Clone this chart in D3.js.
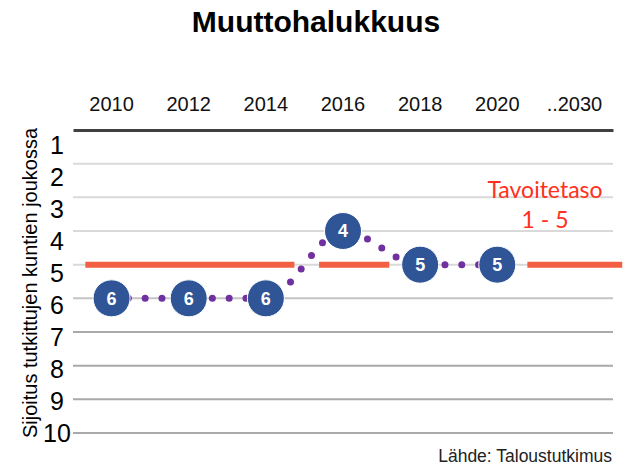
<!DOCTYPE html>
<html>
<head>
<meta charset="utf-8">
<script src="https://cdn.jsdelivr.net/npm/d3@7"></script>
<style>
  body { margin: 0; background: #fff; }
  text { font-family: "Liberation Sans", Arial, sans-serif; }
</style>
</head>
<body>
<svg id="chart" width="638" height="468"></svg>
<script>
// data
var years = ['2010', '2012', '2014', '2016', '2018', '2020', '..2030'];
var rankYears = ['2010', '2012', '2014', '2016', '2018', '2020'];
var ranks = [6, 6, 6, 4, 5, 5];
var rankTicks = [1, 2, 3, 4, 5, 6, 7, 8, 9, 10];
var targetRank = 5;
// target line pieces, in category index units (2010 = 0)
var targetSegments = [[-0.34, 2.37], [2.69, 3.6], [5.39, 6.62]];
var targetLabel = ['Tavoitetaso', '1 - 5'];

var svg = d3.select('#chart');

var x = d3.scaleBand().domain(years).range([73, 613]);
var xi = d3.scaleLinear().domain([-0.5, years.length - 0.5]).range([73, 613]);
var y = d3.scaleLinear().domain([1, 10]).range([130, 433]);
var yLab = d3.scaleLinear().domain([1, 10]).range([145, 433]);

function cx(d) { return x(d) + x.bandwidth() / 2; }

// title
svg.append('text')
    .attr('x', 316)
    .attr('y', 32)
    .attr('text-anchor', 'middle')
    .style('font-size', '30px')
    .style('font-weight', 'bold')
    .text('Muuttohalukkuus');

// grid lines
svg.append('g')
    .selectAll('line')
    .data(rankTicks.slice(1))
    .join('line')
    .attr('x1', 73)
    .attr('x2', 613)
    .attr('y1', d => y(d))
    .attr('y2', d => y(d))
    .style('stroke', d => d <= 5 ? '#d9d9d9' : (d == 6 ? '#c4c4c4' : '#a9a9a9'))
    .style('stroke-width', 2);

// top axis
var xAxis = svg.append('g')
    .attr('transform', 'translate(0,' + y(1) + ')')
    .call(d3.axisTop(x).tickSize(0).tickPadding(19));
xAxis.select('.domain')
    .style('stroke', '#404040')
    .style('stroke-width', 3);
xAxis.selectAll('text')
    .style('font-size', '20px')
    .style('font-family', '"Liberation Sans", Arial, sans-serif')
    .style('fill', '#111');

// y tick labels
svg.append('g')
    .selectAll('text')
    .data(rankTicks)
    .join('text')
    .attr('x', 57)
    .attr('y', d => yLab(d))
    .attr('dy', '0.36em')
    .attr('text-anchor', 'middle')
    .style('font-size', '25px')
    .text(d => d);

// y title
svg.append('text')
    .attr('transform', 'translate(37,283) rotate(-90)')
    .attr('text-anchor', 'middle')
    .style('font-size', '20px')
    .text('Sijoitus tutkittujen kuntien joukossa');

// target line
svg.append('g')
    .selectAll('line')
    .data(targetSegments)
    .join('line')
    .attr('x1', d => xi(d[0]))
    .attr('x2', d => xi(d[1]))
    .attr('y1', y(targetRank))
    .attr('y2', y(targetRank))
    .style('stroke', '#f25f42')
    .style('stroke-width', 6);

// dotted rank line
var line = d3.line()
    .x((d, i) => cx(rankYears[i]))
    .y(d => y(d))
    .curve(d3.curveMonotoneX);

svg.append('path')
    .attr('d', line(ranks))
    .style('fill', 'none')
    .style('stroke', '#7030a0')
    .style('stroke-width', 7)
    .style('stroke-linecap', 'round')
    .style('stroke-dasharray', '0 16.8');

// rank bubbles
var dots = svg.append('g')
    .selectAll('g')
    .data(ranks)
    .join('g')
    .attr('transform', (d, i) => 'translate(' + cx(rankYears[i]) + ',' + y(d) + ')');

dots.append('circle')
    .attr('r', 18.5)
    .style('fill', '#2f5597')
    .style('stroke', '#fff')
    .style('stroke-width', 1);

dots.append('text')
    .attr('dy', '0.36em')
    .attr('text-anchor', 'middle')
    .style('fill', 'white')
    .style('font-size', '18px')
    .style('font-weight', 'bold')
    .text(d => d);

// target label
svg.append('g')
    .selectAll('text')
    .data(targetLabel)
    .join('text')
    .attr('x', 545)
    .attr('y', (d, i) => 190 + i * 30)
    .attr('dy', '0.36em')
    .attr('text-anchor', 'middle')
    .style('font-family', 'Lato, "Open Sans", sans-serif')
    .style('font-size', '23px')
    .style('fill', '#ff3020')
    .text(d => d);

// source
svg.append('text')
    .attr('x', 612)
    .attr('y', 462)
    .attr('text-anchor', 'end')
    .style('font-size', '17.5px')
    .style('fill', '#222')
    .text('Lähde: Taloustutkimus');
</script>
</body>
</html>
